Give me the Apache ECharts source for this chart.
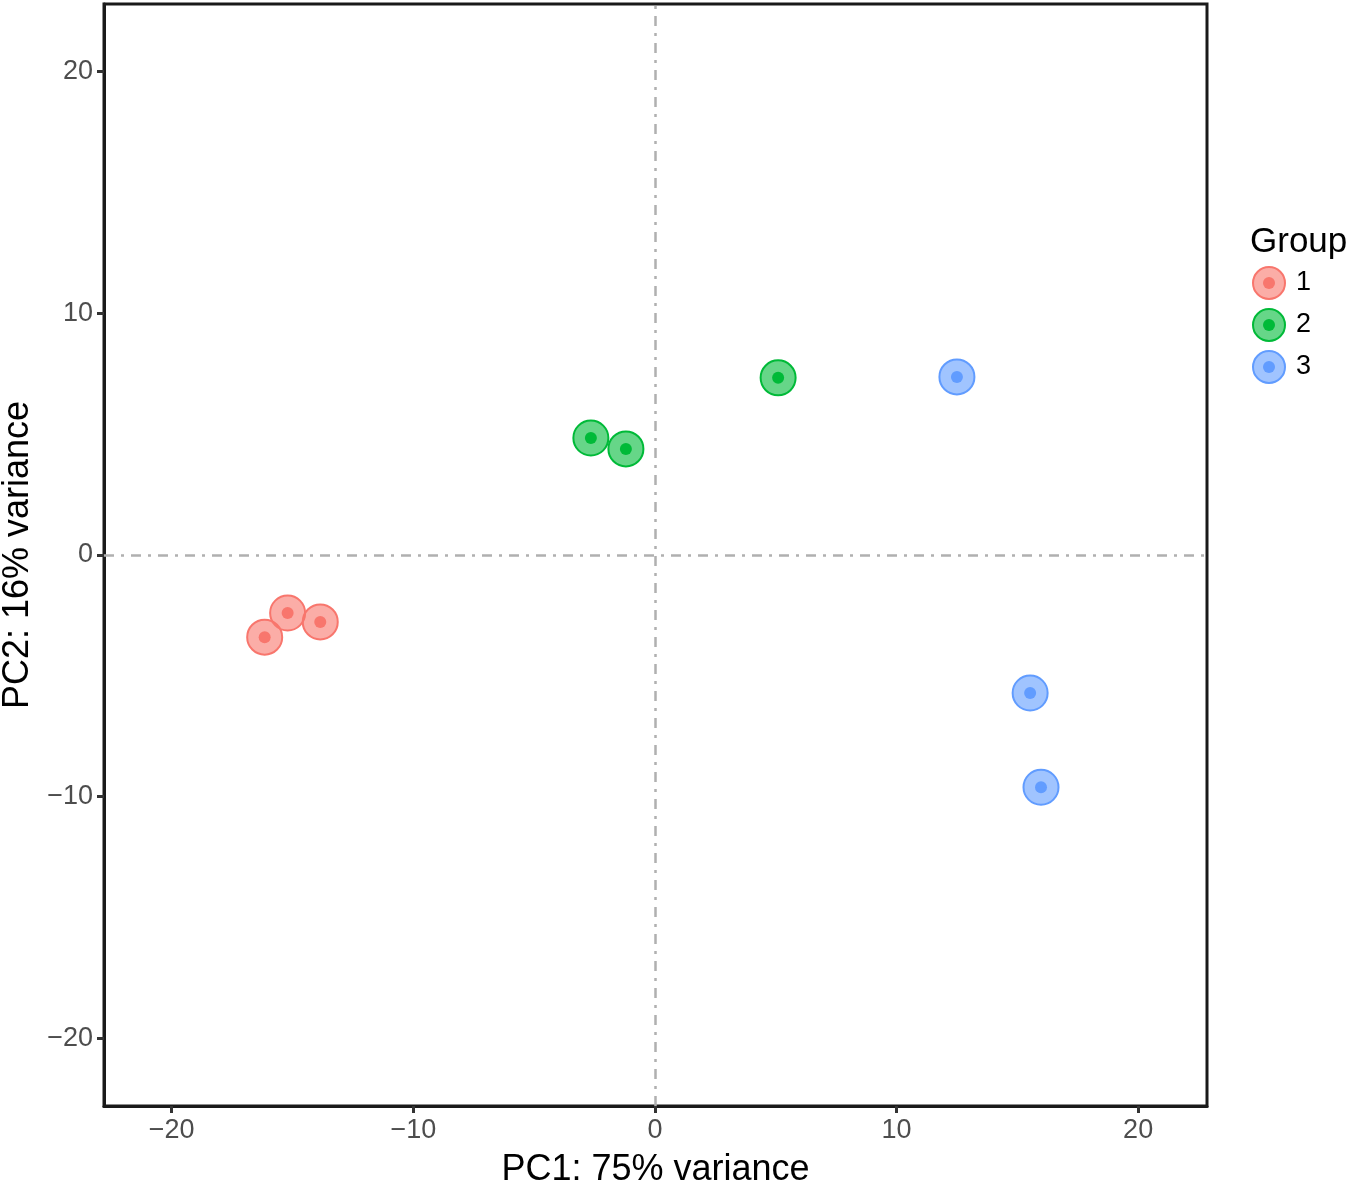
<!DOCTYPE html>
<html>
<head>
<meta charset="utf-8">
<title>PCA</title>
<script src="https://cdn.jsdelivr.net/npm/echarts@6/dist/echarts.min.js"></script>
<style>
html,body{margin:0;padding:0;background:#fff;}
#main{width:1350px;height:1183px;}
</style>
</head>
<body>
<div id="main"></div>
<script>
// PCA sample coordinates
var groups = ['1', '2', '3'];
var colors = ['#F8766D', '#00BA38', '#619CFF'];
var pc1_g1 = [-16.15, -15.2, -13.85];
var pc2_g1 = [-3.4, -2.4, -2.77];
var pc1_g2 = [-2.65, -1.2, 5.1];
var pc2_g2 = [4.84, 4.39, 7.33];
var pc1_g3 = [12.5, 15.53, 15.98];
var pc2_g3 = [7.37, -5.71, -9.61];
var ticks = [-20, -10, 0, 10, 20];

var pc1 = [pc1_g1, pc1_g2, pc1_g3];
var pc2 = [pc2_g1, pc2_g2, pc2_g3];

function fade(hex, a){
	var r = parseInt(hex.substr(1,2),16), g = parseInt(hex.substr(3,2),16), b = parseInt(hex.substr(5,2),16);
	return 'rgba('+r+','+g+','+b+','+a+')';
};
function iconFor(hex){
	var svg = "<svg xmlns='http://www.w3.org/2000/svg' width='36' height='36'>"+
		"<circle cx='18' cy='18' r='16' fill='"+fade(hex,0.6)+"' stroke='"+hex+"' stroke-width='2'/>"+
		"<circle cx='18' cy='18' r='6' fill='"+hex+"'/></svg>";
	return 'image://data:image/svg+xml;charset=utf-8,' + encodeURIComponent(svg);
};

var series = [];
var legendData = [];
for(var i=0;i<groups.length;i++){
	var pts = [];
	for(var j=0;j<pc1[i].length;j++) pts.push([pc1[i][j], pc2[i][j]]);
	series.push({
		name: groups[i], type: 'scatter', data: pts, symbolSize: 35, z: 3,
		itemStyle: {color: fade(colors[i],0.6), borderColor: colors[i], borderWidth: 2, opacity: 1}
	});
	series.push({
		name: groups[i], type: 'scatter', data: pts, symbolSize: 12, z: 4,
		itemStyle: {color: colors[i], opacity: 1}
	});
	legendData.push({name: groups[i], icon: iconFor(colors[i])});
}
// dash-dot reference lines through the origin
series[0].markLine = {
	silent: true, symbol: 'none', label: {show: false},
	lineStyle: {color: '#b0b0b0', width: 2.5, type: [10, 7, 3, 7]},
	data: [{xAxis: 0}, {yAxis: 0}]
};

var chart = echarts.init(document.getElementById('main'));
var fam = 'Liberation Sans, Arial, sans-serif';
var nameFont = {fontFamily: fam, fontSize: 36, color: '#000'};
function minus(v){ return String(v).replace('-', '\u2212'); };
chart.setOption({
	animation: false,
	title: {
		text: 'Group', left: 1245, top: 220,
		textStyle: {fontFamily: fam, fontSize: 35, fontWeight: 'normal', color: '#000'}
	},
	legend: {
		data: legendData, orient: 'vertical', left: 1246, top: 260,
		itemWidth: 36, itemHeight: 36, itemGap: 6,
		textStyle: {fontFamily: fam, fontSize: 27, color: '#000', padding: [0, 0, 0, 4]}
	},
	grid: {
		left: 104, right: 143, top: 4, bottom: 77,
		outerBoundsMode: 'none', containLabel: false,
		show: true, borderColor: '#1a1a1a', borderWidth: 3, backgroundColor: '#fff'
	},
	xAxis: {
		type: 'value', min: -22.8, max: 22.85,
		name: 'PC1: 75% variance', nameLocation: 'middle', nameGap: 46, nameTextStyle: nameFont,
		axisLine: {show: true, onZero: false, lineStyle: {color: '#1a1a1a', width: 3}},
		axisTick: {show: true, length: 7, lineStyle: {color: '#333', width: 3}, customValues: ticks},
		axisLabel: {customValues: ticks, margin: 11, formatter: minus, fontFamily: fam, fontSize: 27, color: '#4d4d4d'},
		splitLine: {show: false}
	},
	yAxis: {
		type: 'value', min: -22.8, max: 22.8,
		name: 'PC2: 16% variance', nameLocation: 'middle', nameGap: 67, nameTextStyle: nameFont,
		axisLine: {show: true, onZero: false, lineStyle: {color: '#1a1a1a', width: 3}},
		axisTick: {show: true, length: 7, lineStyle: {color: '#333', width: 3}, customValues: ticks},
		axisLabel: {customValues: ticks, margin: 11, formatter: minus, fontFamily: fam, fontSize: 27, color: '#4d4d4d'},
		splitLine: {show: false}
	},
	series: series
});
</script>
</body>
</html>
